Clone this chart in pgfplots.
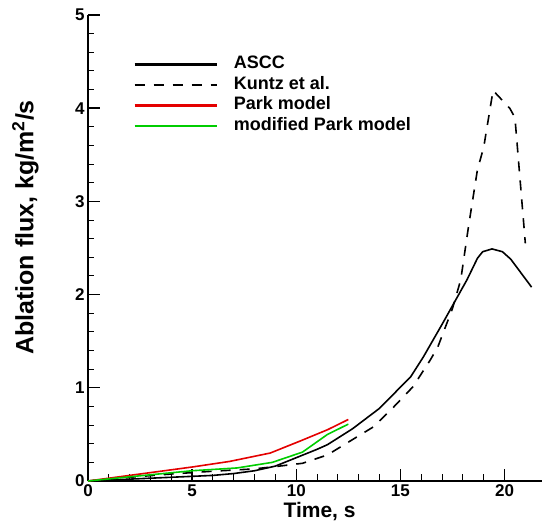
\documentclass[border=0pt]{standalone}
\usepackage{pgfplots}
\pgfplotsset{compat=1.18}
\usepackage{fontspec}
\setmainfont{Liberation Sans}
\definecolor{pred}{RGB}{228,0,0}
\definecolor{pgreen}{RGB}{0,205,0}
\begin{document}
\begin{tikzpicture}
\useasboundingbox (-88pt,-45pt) rectangle (455pt,481pt);
\begin{axis}[
  at={(0pt,0pt)}, anchor=south west,
  scale only axis, width=454pt, height=466pt,
  xmin=0, xmax=21.8, ymin=0, ymax=5,
  axis x line=bottom, axis y line=left,
  axis line style={-, line width=1.6pt},
  xtick={0,5,10,15,20}, ytick={0,1,2,3,4,5},
  minor x tick num=4, minor y tick num=4,
  tick align=inside,
  major tick length=12pt, minor tick length=6.5pt,
  every tick/.style={black, line width=1.4pt},
  minor tick style={line width=1pt},
  /pgf/number format/assume math mode=true,
  ticklabel style={font=\fontsize{17}{17}\selectfont\bfseries},
  xlabel={Time, s},
  ylabel={Ablation flux, kg/m\textsuperscript{2}/s},
  xlabel style={font=\fontsize{21}{21}\selectfont\bfseries, at={(axis description cs:0.51,-0.066)}, anchor=center},
  ylabel style={font=\fontsize{25}{25}\selectfont\bfseries, at={(axis description cs:-0.138,0.544)}, anchor=center, rotate=0},
  legend image code/.code={\draw[#1, line width=2.2pt] (0pt,0pt) -- (82pt,0pt);},
  legend style={draw=none, fill=none, inner sep=0pt, row sep=0pt,
    at={(axis description cs:0.1,0.916)}, anchor=north west,
    font=\fontsize{18}{18}\selectfont\bfseries,
    nodes={text height=12.5pt, text depth=4pt, inner sep=2pt},
    /tikz/every odd column/.append style={column sep=14pt}},
  legend cell align=left,
  clip=false,
]
\addplot[black, line width=1.6pt] coordinates {
(0,0) (1,0.01) (2,0.02) (3,0.03) (4,0.04) (5,0.05) (6,0.06) (7,0.08) (8,0.11)
(9,0.16) (10,0.25) (11,0.34) (11.5,0.39) (12.7,0.56) (14,0.78) (15.5,1.12)
(16.1,1.33) (17,1.68) (18.2,2.16) (18.7,2.39) (18.95,2.46) (19.4,2.49)
(19.9,2.46) (20.3,2.38) (21.3,2.08)};
\addlegendentry{ASCC}
\addplot[black, line width=1.6pt, dash pattern=on 10pt off 9pt] coordinates {
(0,0) (2,0.04) (4,0.075) (6,0.105) (8,0.13) (9.2,0.16) (10.3,0.19) (11.5,0.28)
(12.45,0.41) (13.7,0.58) (14.66,0.79) (15.6,1.01) (16.44,1.30) (16.8,1.44)
(17.5,1.85) (17.9,2.16) (18.27,2.73) (18.7,3.34) (19.0,3.58) (19.45,4.19)
(20.25,4.0) (20.5,3.9) (21.0,2.55)};
\addlegendentry{Kuntz et al.}
\addplot[pred, line width=1.6pt] coordinates {
(0,0) (2,0.06) (5,0.15) (6.8,0.21) (8.75,0.30) (10.2,0.43) (11.5,0.55) (12.5,0.66)};
\addlegendentry{Park model}
\addplot[pgreen, line width=1.6pt] coordinates {
(0,0) (2,0.045) (5,0.11) (7.16,0.14) (8.85,0.20) (10.3,0.31) (11.5,0.50) (12.5,0.61)};
\addlegendentry{modified Park model}
\end{axis}
\end{tikzpicture}
\end{document}
